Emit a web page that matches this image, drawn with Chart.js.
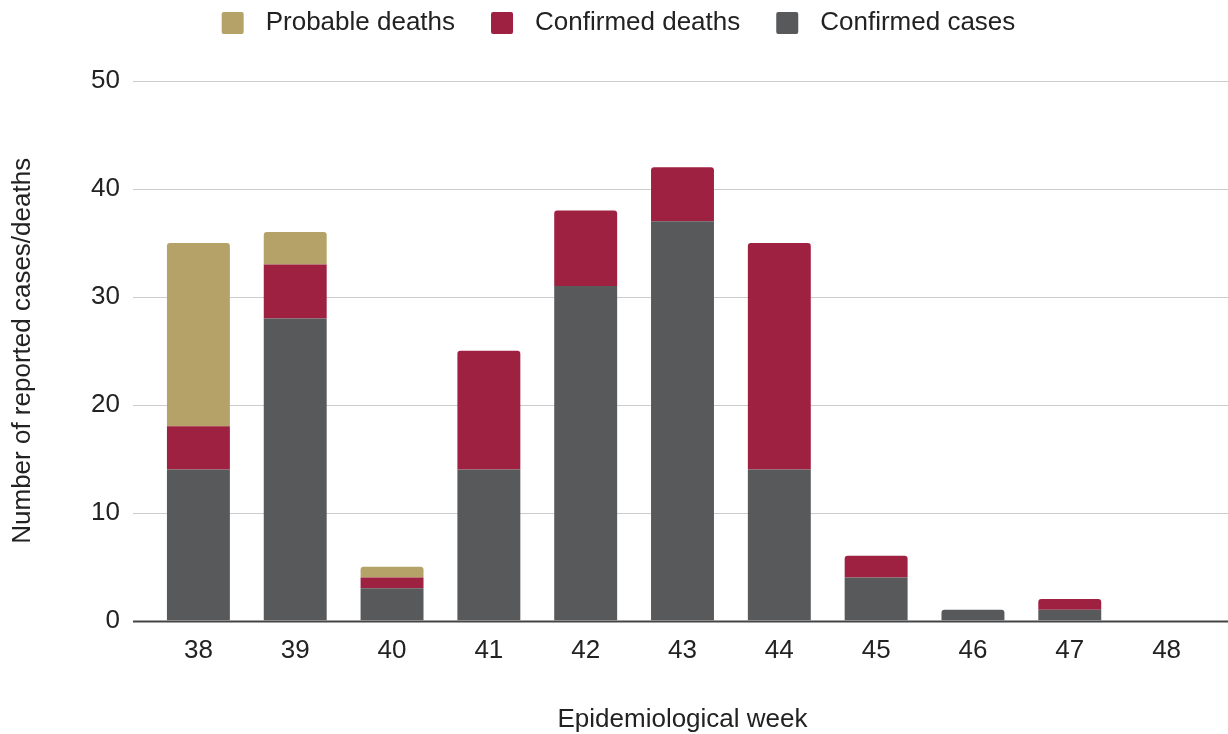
<!DOCTYPE html>
<html>
<head>
<meta charset="utf-8">
<script src="https://cdn.jsdelivr.net/npm/chart.js@4.4.0/dist/chart.umd.min.js"></script>
<style>
  html, body { margin: 0; padding: 0; background: #fff; }
  #wrap { width: 1228px; height: 734px; }
</style>
</head>
<body>
<div id="wrap"><canvas id="chart"></canvas></div>
<script>
// --- données ---
const weeks = ['38', '39', '40', '41', '42', '43', '44', '45', '46', '47', '48'];
const confirmedCases = [14, 28, 3, 14, 31, 37, 14, 4, 1, 1, 0];
const confirmedDeaths = [4, 5, 1, 11, 7, 5, 21, 2, 0, 1, 0];
const probableDeaths = [17, 3, 1, 0, 0, 0, 0, 0, 0, 0, 0];
const yTicks = [0, 10, 20, 30, 40, 50];

const FONT = '"Liberation Sans", Arial, sans-serif';
const TEXT = '#222222';
const SIZE = 26;

// lignes de grille horizontales qui débordent de la zone du graphique
const wideGrid = {
    id: 'wideGrid',
    beforeDatasetsDraw(chart) {
        const { ctx, scales: { y } } = chart;
        ctx.save();
        yTicks.forEach(v => {
            const py = Math.round(y.getPixelForValue(v)) + 0.5;
            ctx.strokeStyle = v === 0 ? '#444444' : '#cccccc';
            ctx.lineWidth = v === 0 ? 2 : 1.2;
            ctx.beginPath();
            ctx.moveTo(133, py);
            ctx.lineTo(1228, py);
            ctx.stroke();
        });
        ctx.restore();
    }
};

// espace sous la légende, recentrage + petits carrés de couleur (22 px)
const legendTweaks = {
    id: 'legendTweaks',
    beforeInit(chart) {
        const fit = chart.legend.fit;
        chart.legend.fit = function () {
            fit.bind(chart.legend)();
            this.height += 35;
            if (this.lineWidths) this.lineWidths = this.lineWidths.map(w => w - 22);
        };
    },
    afterDraw(chart) {
        const legend = chart.legend;
        const { ctx } = chart;
        ctx.save();
        legend.legendItems.forEach((item, i) => {
            const box = legend.legendHitBoxes[i];
            const ds = chart.data.datasets[item.datasetIndex];
            const top = box.top + (box.height - 22) / 2;
            ctx.fillStyle = ds.backgroundColor;
            ctx.beginPath();
            ctx.roundRect(box.left, top, 22, 22, 2);
            ctx.fill();
        });
        ctx.restore();
    }
};

const ctx = document.getElementById('chart').getContext('2d');
new Chart(ctx, {
    type: 'bar',
    data: {
        labels: weeks,
        datasets: [
            { label: 'Confirmed cases', data: confirmedCases, backgroundColor: '#58595b' },
            { label: 'Confirmed deaths', data: confirmedDeaths, backgroundColor: '#9f2141' },
            { label: 'Probable deaths', data: probableDeaths, backgroundColor: '#b5a268' }
        ].map(d => Object.assign(d, {
            borderWidth: 0,
            borderRadius: 3,
            borderSkipped: 'start',
            categoryPercentage: 0.65,
            barPercentage: 1.0
        }))
    },
    options: {
        responsive: true,
        maintainAspectRatio: false,
        animation: false,
        layout: { padding: { left: 0, right: 13, top: -26, bottom: -1 } },
        plugins: {
            legend: {
                position: 'top',
                reverse: true,
                labels: {
                    boxWidth: 31,
                    boxHeight: 22,
                    padding: 36,
                    color: TEXT,
                    font: { family: FONT, size: SIZE },
                    generateLabels(chart) {
                        const items = Chart.defaults.plugins.legend.labels.generateLabels(chart);
                        items.forEach(it => {
                            it.fillStyle = 'rgba(0,0,0,0)';
                            it.strokeStyle = 'rgba(0,0,0,0)';
                            it.lineWidth = 0;
                        });
                        return items;
                    }
                }
            },
            tooltip: { enabled: false }
        },
        scales: {
            x: {
                stacked: true,
                grid: { display: false, drawTicks: false },
                border: { display: false },
                ticks: { color: TEXT, font: { family: FONT, size: SIZE }, padding: 15 },
                title: {
                    display: true,
                    text: 'Epidemiological week',
                    color: TEXT,
                    font: { family: FONT, size: SIZE },
                    padding: { top: 22, bottom: 0 }
                }
            },
            y: {
                stacked: true,
                min: 0,
                max: 50,
                afterFit(scale) { scale.width = 150; },
                grid: { display: false, drawTicks: false },
                border: { display: false },
                ticks: { stepSize: 10, color: TEXT, font: { family: FONT, size: SIZE }, padding: 30 },
                title: {
                    display: true,
                    text: 'Number of reported cases/deaths',
                    color: TEXT,
                    font: { family: FONT, size: SIZE },
                    padding: { top: 7, bottom: 0 }
                }
            }
        }
    },
    plugins: [wideGrid, legendTweaks]
});
</script>
</body>
</html>
